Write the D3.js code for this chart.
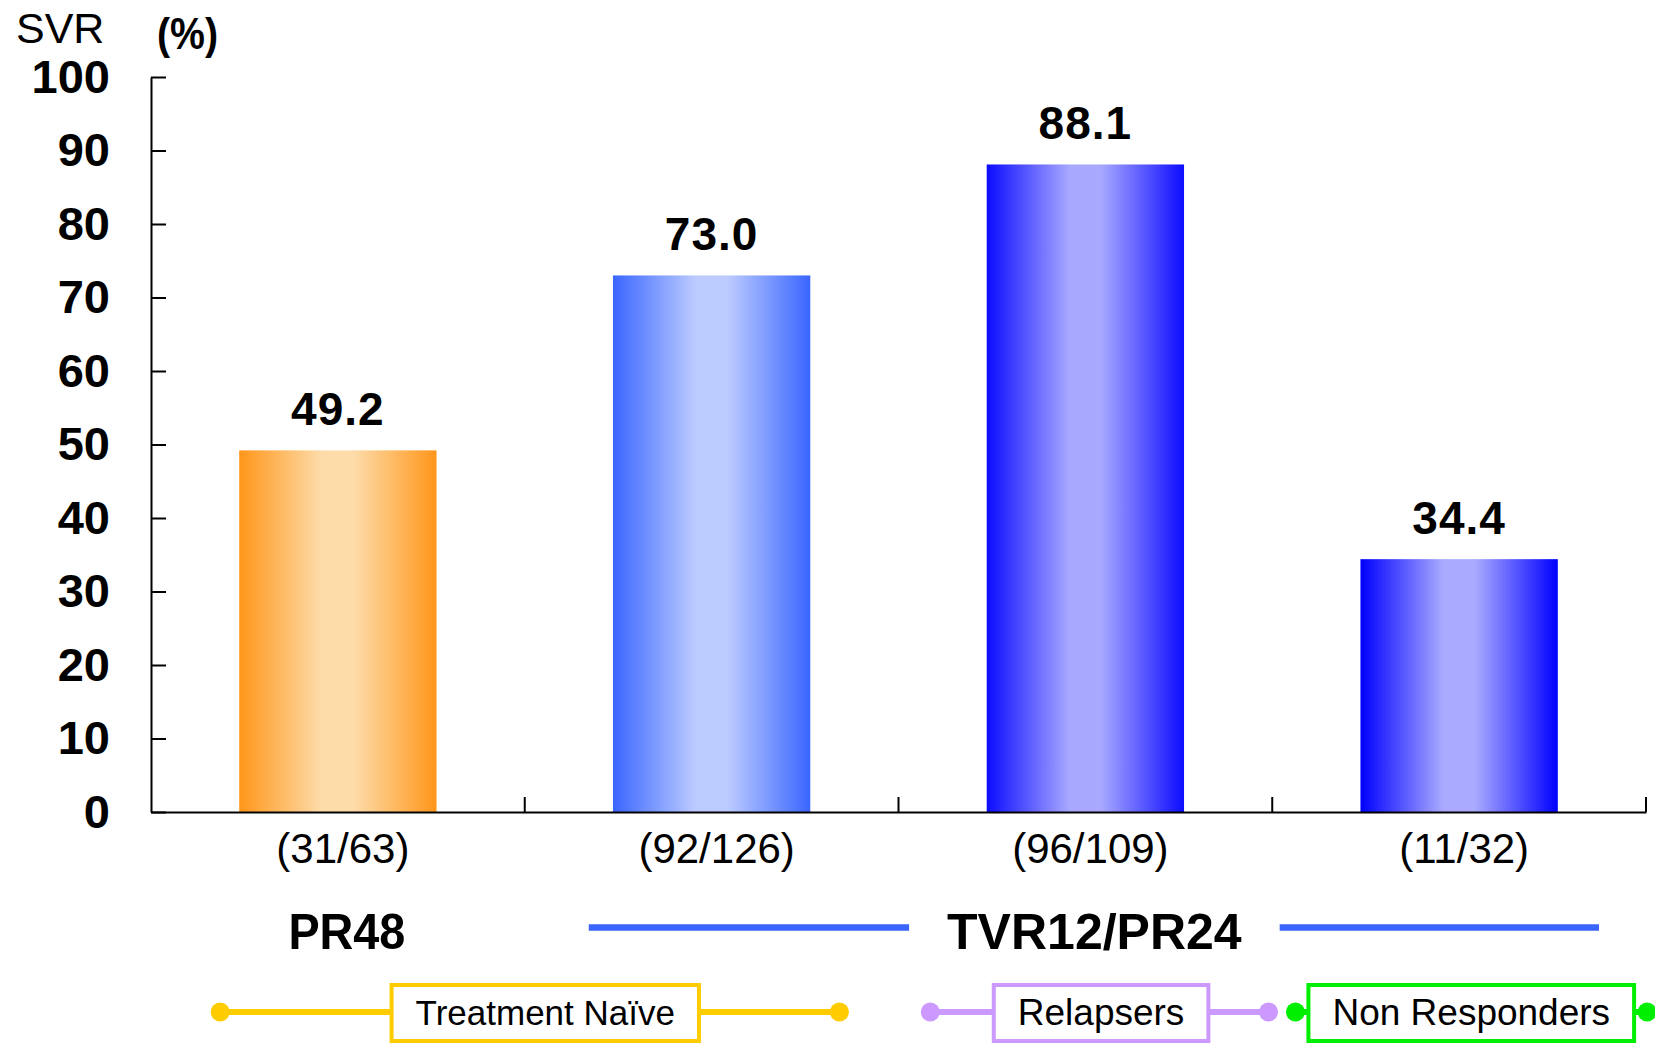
<!DOCTYPE html>
<html>
<head>
<meta charset="utf-8">
<script src="https://cdn.jsdelivr.net/npm/d3@7"></script>
<style>
  html, body { margin: 0; padding: 0; background: #ffffff; }
  svg { display: block; font-family: "Liberation Sans", Arial, sans-serif; }
</style>
</head>
<body>
<svg id="chart" width="1655" height="1045"></svg>
<script>
// Sustained virologic response by patient group
const categories = ["(31/63)", "(92/126)", "(96/109)", "(11/32)"];
const svrValues = [49.2, 73.0, 88.1, 34.4];
const yTickValues = [0, 10, 20, 30, 40, 50, 60, 70, 80, 90, 100];

// Treatment regimens, each covering a run of categories (first, last index)
const regimenLabels = ["PR48", "TVR12/PR24"];
const regimenSpans = [[0, 0], [1, 3]];

// Patient populations, each covering a run of categories (first, last index)
const patientGroups = ["Treatment Naïve", "Relapsers", "Non Responders"];
const patientSpans = [[0, 1], [2, 2], [3, 3]];

// Styling
const barEdge  = ["#ff961a", "#3a66ff", "#0c0cff", "#0000ff"];
const barLight = ["#fddcaa", "#bccbff", "#a8a8ff", "#aaaaff"];
const groupColors = ["#ffcc00", "#cc99ff", "#00ee00"];
// where each patient-group connector starts/ends, as fractions of band width
const groupInsets = [[0.185, -0.158], [0.085, -0.01], [0.062, 0.003]];
const groupBoxPos = [0.525, 0.505, 0.5];

const svg = d3.select("#chart");
const W = 1655, H = 1045;
svg.append("rect").attr("width", W).attr("height", H).attr("fill", "#fff");

const x = d3.scaleBand().domain(d3.range(categories.length)).range([151, 1646]).paddingInner(0).paddingOuter(0);
const y = d3.scaleLinear().domain([0, 100]).range([812, 77]);
const bw = x.bandwidth();
const barW = bw * 0.528;

// gradients: edge -> light centre -> edge
const defs = svg.append("defs");
svrValues.forEach((v, i) => {
  const g = defs.append("linearGradient").attr("id", "barGrad" + i)
    .attr("x1", "0%").attr("x2", "100%").attr("y1", "0%").attr("y2", "0%");
  g.append("stop").attr("offset", "0%").attr("stop-color", barEdge[i]);
  g.append("stop").attr("offset", "42%").attr("stop-color", barLight[i]);
  g.append("stop").attr("offset", "58%").attr("stop-color", barLight[i]);
  g.append("stop").attr("offset", "100%").attr("stop-color", barEdge[i]);
});

// bars
svg.append("g").selectAll("rect").data(svrValues).join("rect")
  .attr("x", (d, i) => x(i) + (bw - barW) / 2)
  .attr("width", barW)
  .attr("y", d => y(d))
  .attr("height", d => y(0) - y(d))
  .attr("fill", (d, i) => `url(#barGrad${i})`);

// value labels
svg.append("g").selectAll("text").data(svrValues).join("text")
  .attr("x", (d, i) => x(i) + bw / 2)
  .attr("y", d => y(d) - 25)
  .attr("text-anchor", "middle")
  .attr("font-size", 46).attr("font-weight", "bold")
  .attr("letter-spacing", 1)
  .attr("fill", "#000")
  .text(d => d.toFixed(1));

// y axis (ticks pointing into the plot)
const yAxis = d3.axisLeft(y).tickValues(yTickValues).tickSizeInner(-15).tickSizeOuter(0).tickPadding(41);
const gy = svg.append("g").attr("transform", `translate(${x.range()[0]},0)`).call(yAxis);
gy.selectAll("path, line").attr("stroke", "#000").attr("stroke-width", 2);
gy.selectAll("text").attr("font-size", 47).attr("font-weight", "bold").attr("fill", "#000")
  .attr("font-family", "Liberation Sans, Arial, sans-serif");

// x axis with category separators
const xAxis = d3.axisBottom(x).tickFormat(i => categories[i]).tickSize(0).tickPadding(21);
const gx = svg.append("g").attr("transform", `translate(0,${y(0)})`).call(xAxis);
gx.select(".domain").attr("stroke", "#000").attr("stroke-width", 2);
gx.selectAll("text").attr("font-size", 42).attr("fill", "#000").attr("dx", 5)
  .attr("font-family", "Liberation Sans, Arial, sans-serif");
svg.append("g").selectAll("line").data(d3.range(categories.length)).join("line")
  .attr("x1", i => x(i) + bw).attr("x2", i => x(i) + bw)
  .attr("y1", y(0)).attr("y2", y(0) - 15)
  .attr("stroke", "#000").attr("stroke-width", 2);

// axis titles
svg.append("text").attr("x", 16).attr("y", 43).attr("font-size", 43).attr("fill", "#000").text("SVR");
svg.append("text").attr("x", 157).attr("y", 49).attr("font-size", 44).attr("font-weight", "bold")
  .attr("textLength", 61).attr("lengthAdjust", "spacingAndGlyphs")
  .attr("fill", "#000").text("(%)");

// regimen labels
const regY = 949;
regimenLabels.forEach((lab, k) => {
  const [a, b] = regimenSpans[k];
  const x0 = x(a), x1 = x(b) + bw;
  const cx = (x0 + x1) / 2 + 9;
  const t = svg.append("text").attr("x", cx).attr("y", regY)
    .attr("text-anchor", "middle").attr("font-size", 50).attr("font-weight", "bold")
    .attr("fill", "#000").text(lab);
  if (b === a) t.attr("textLength", 117).attr("lengthAdjust", "spacingAndGlyphs");
  if (b > a) {
    const tw = t.node().getComputedTextLength();
    const lineY = 927.5;
    const gap = 38;
    svg.append("line").attr("x1", x0 + 64).attr("x2", cx - tw / 2 - gap)
      .attr("y1", lineY).attr("y2", lineY).attr("stroke", "#3a66ff").attr("stroke-width", 6.5);
    svg.append("line").attr("x1", cx + tw / 2 + gap).attr("x2", x1 - 47)
      .attr("y1", lineY).attr("y2", lineY).attr("stroke", "#3a66ff").attr("stroke-width", 6.5);
  }
});

// patient-group connectors with labelled boxes
const legY = 1012;
patientGroups.forEach((lab, k) => {
  const [a, b] = patientSpans[k];
  const xa = x(a) + groupInsets[k][0] * bw;
  const xb = x(b) + bw + groupInsets[k][1] * bw;
  const col = groupColors[k];
  const g = svg.append("g");
  g.append("line").attr("x1", xa).attr("x2", xb).attr("y1", legY).attr("y2", legY)
    .attr("stroke", col).attr("stroke-width", 6);
  g.append("circle").attr("cx", xa).attr("cy", legY).attr("r", 9.5).attr("fill", col);
  g.append("circle").attr("cx", xb).attr("cy", legY).attr("r", 9.5).attr("fill", col);
  const cx = xa + (xb - xa) * groupBoxPos[k];
  const t = g.append("text").attr("x", cx).attr("y", legY + 13)
    .attr("text-anchor", "middle").attr("font-size", k === 0 ? 35 : 37).attr("fill", "#000").text(lab);
  const tw = t.node().getComputedTextLength();
  g.insert("rect", "text").attr("x", cx - tw / 2 - 24).attr("y", 985)
    .attr("width", tw + 48).attr("height", 56)
    .attr("fill", "#fff").attr("stroke", col).attr("stroke-width", 4);
});
</script>
</body>
</html>
